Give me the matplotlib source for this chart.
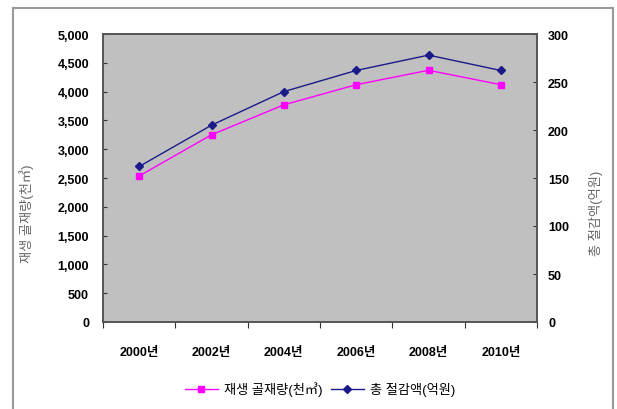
import matplotlib
matplotlib.use('Agg')
import matplotlib.pyplot as plt
from matplotlib.patches import Rectangle
import numpy as np

plt.rcParams['font.family'] = ['Liberation Sans', 'Noto Sans CJK KR']

# ── Data ──────────────────────────────────────────────────────────────────────
years     = ['2000년', '2002년', '2004년', '2006년', '2008년', '2010년']
aggregate = [2535, 3250, 3770, 4120, 4370, 4120]      # 재생 골재량(천㎥), left axis
savings   = [162, 205, 240, 262, 278, 262]            # 총 절감액(억원), right axis

left_ticks  = np.arange(0, 5001, 500)
right_ticks = np.arange(0, 301, 50)

fig = plt.figure(figsize=(6.17, 4.10), dpi=100)
fig.patches.append(Rectangle((13 / 617, -0.05), (613 - 13) / 617, 1.05 - 9 / 410,
                             transform=fig.transFigure, fill=False,
                             edgecolor='#9a9a9a', linewidth=1.5))

ax = fig.add_axes([103 / 617, 87 / 410, 434 / 617, 288 / 410])
ax.set_facecolor('#c0c0c0')
x = np.arange(len(years))

l1, = ax.plot(x, aggregate, color='#ff00ff', marker='s', markersize=5,
              linewidth=1, label='재생 골재량(천㎥)')
ax.set_xlim(-0.5, len(years) - 0.5)
ax.set_ylim(0, 5000)
ax.set_yticks(left_ticks)
ax.set_yticklabels([f'{v:,}' for v in left_ticks], fontsize=9)
ax.set_xticks(np.arange(-0.5, len(years)), minor=False)
ax.set_xticklabels([])
ax.set_xticks(x, minor=True)
ax.set_xticklabels(years, minor=True, fontsize=9)
ax.tick_params(axis='x', which='minor', length=0, pad=17)
ax.tick_params(axis='x', which='major', length=4, direction='out', color='#333333')
ax.tick_params(axis='y', length=3, direction='in', color='#333333', pad=10)
for t in ax.get_xticklabels(minor=True) + ax.get_yticklabels():
    t.set_fontweight('bold')
ax.set_ylabel('재생 골재량(천㎥)', fontsize=9.5, color='#666666', labelpad=4)
ax.yaxis.set_label_coords(-0.16, 0.38)

ax2 = ax.twinx()
l2, = ax2.plot(x, savings, color='#1a1a8a', marker='D', markersize=4,
               linewidth=1, label='총 절감액(억원)')
ax2.set_ylim(0, 300)
ax2.set_yticks(right_ticks)
ax2.set_yticklabels([str(v) for v in right_ticks], fontsize=9, fontweight='bold')
ax2.tick_params(axis='y', length=3, direction='in', color='#333333', pad=8)
ax2.set_ylabel('총 절감액(억원)', fontsize=9.5, color='#666666', rotation=90)
ax2.yaxis.set_label_coords(1.12, 0.38)

for a in (ax, ax2):
    for s in a.spines.values():
        s.set_color('#555555')
        s.set_linewidth(1.2)

fig.legend(handles=[l1, l2], loc='center', bbox_to_anchor=(320 / 617, 20 / 410),
           ncol=2, frameon=False, fontsize=9.5, handlelength=2.5,
           columnspacing=0.6, handletextpad=0.5)

fig.savefig('out.png', dpi=100)
